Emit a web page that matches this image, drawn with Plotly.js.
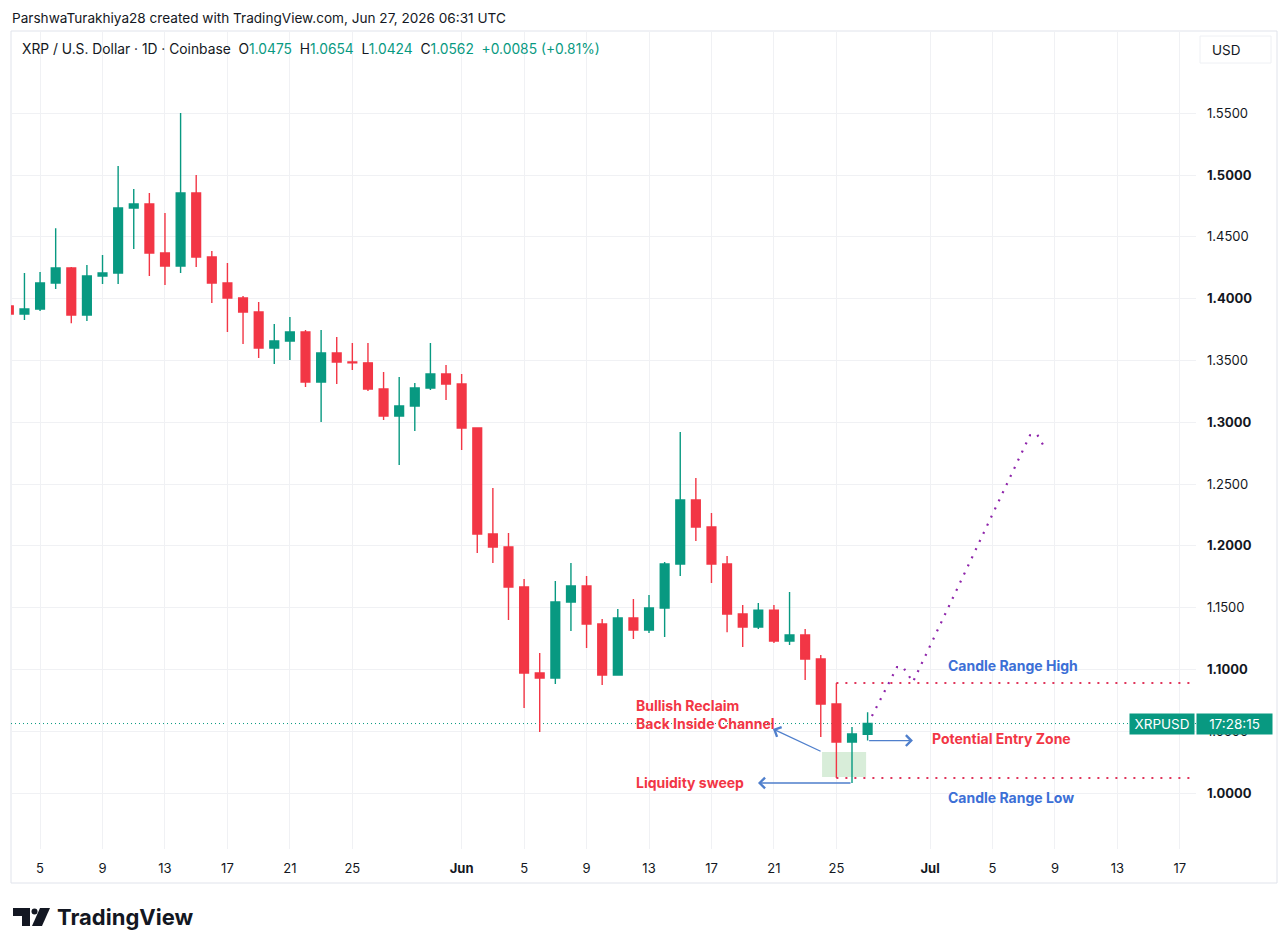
<!DOCTYPE html>
<html>
<head>
<meta charset="utf-8">
<script src="https://cdn.plot.ly/plotly-3.0.1.min.js"></script>
<style>
html,body{margin:0;padding:0;background:#ffffff;}
#chart{width:1288px;height:952px;}
</style>
</head>
<body>
<div id="chart"></div>
<script>
// ---------- DATA ----------
const dates = [
 '2026-05-03','2026-05-04','2026-05-05','2026-05-06','2026-05-07','2026-05-08','2026-05-09','2026-05-10',
 '2026-05-11','2026-05-12','2026-05-13','2026-05-14','2026-05-15','2026-05-16','2026-05-17','2026-05-18',
 '2026-05-19','2026-05-20','2026-05-21','2026-05-22','2026-05-23','2026-05-24','2026-05-25','2026-05-26',
 '2026-05-27','2026-05-28','2026-05-29','2026-05-30','2026-05-31','2026-06-01','2026-06-02','2026-06-03',
 '2026-06-04','2026-06-05','2026-06-06','2026-06-07','2026-06-08','2026-06-09','2026-06-10','2026-06-11',
 '2026-06-12','2026-06-13','2026-06-14','2026-06-15','2026-06-16','2026-06-17','2026-06-18','2026-06-19',
 '2026-06-20','2026-06-21','2026-06-22','2026-06-23','2026-06-24','2026-06-25','2026-06-26','2026-06-27'
];
const opens = [
 1.3940,1.3875,1.3916,1.4126,1.4248,1.3867,1.4183,1.4207,
 1.4733,1.4765,1.4369,1.4264,1.4854,1.4337,1.4126,1.4005,
 1.3892,1.3600,1.3657,1.3730,1.3325,1.3560,1.3487,1.3480,
 1.3269,1.3050,1.3131,1.3277,1.3390,1.3309,1.2953,1.2095,
 1.1990,1.1667,1.0971,1.0930,1.1545,1.1675,1.1367,1.0955,
 1.1416,1.1319,1.1497,1.1853,1.2370,1.2152,1.1853,1.1448,
 1.1343,1.1480,1.1230,1.1278,1.1084,1.0720,1.0413,1.0475
];
const highs = [
 1.3965,1.4207,1.4215,1.4570,1.4256,1.4272,1.4353,1.5073,
 1.4887,1.4854,1.4693,1.5502,1.5000,1.4385,1.4288,1.4021,
 1.3973,1.3794,1.3851,1.3746,1.3746,1.3689,1.3641,1.3641,
 1.3406,1.3366,1.3317,1.3641,1.3463,1.3390,1.2960,1.2468,
 1.2103,1.1731,1.1133,1.1715,1.1860,1.1756,1.1408,1.1489,
 1.1570,1.1602,1.1869,1.2920,1.2549,1.2265,1.1917,1.1521,
 1.1537,1.1521,1.1626,1.1327,1.1117,1.0890,1.0534,1.0654
];
const lows = [
 1.3850,1.3827,1.3900,1.4078,1.3800,1.3819,1.4118,1.4118,
 1.4401,1.4183,1.4110,1.4207,1.4256,1.3964,1.3730,1.3633,
 1.3519,1.3471,1.3503,1.3285,1.3002,1.3309,1.3422,1.3252,
 1.3018,1.2654,1.2929,1.3260,1.3180,1.2775,1.1942,1.1860,
 1.1400,1.0688,1.0494,1.0882,1.1310,1.1173,1.0874,1.0950,
 1.1246,1.1294,1.1262,1.1756,1.2039,1.1699,1.1300,1.1181,
 1.1327,1.1214,1.1197,1.0914,1.0453,1.0121,1.0081,1.0424
];
const closes = [
 1.3875,1.3916,1.4126,1.4248,1.3867,1.4183,1.4207,1.4733,
 1.4765,1.4369,1.4264,1.4854,1.4337,1.4126,1.4005,1.3892,
 1.3600,1.3657,1.3730,1.3325,1.3560,1.3487,1.3480,1.3269,
 1.3050,1.3131,1.3277,1.3390,1.3309,1.2953,1.2095,1.1990,
 1.1667,1.0971,1.0930,1.1545,1.1675,1.1367,1.0955,1.1416,
 1.1319,1.1497,1.1853,1.2370,1.2152,1.1853,1.1448,1.1343,
 1.1480,1.1230,1.1278,1.1084,1.0720,1.0413,1.0477,1.0562
];

// axis ticks
const xTickVals = ['2026-05-05','2026-05-09','2026-05-13','2026-05-17','2026-05-21','2026-05-25','2026-06-01',
 '2026-06-05','2026-06-09','2026-06-13','2026-06-17','2026-06-21','2026-06-25','2026-07-01','2026-07-05',
 '2026-07-09','2026-07-13','2026-07-17'];
const xTickText = ['5','9','13','17','21','25','<b>Jun</b>','5','9','13','17','21','25','<b>Jul</b>','5','9','13','17'];
const yTickVals = [1.00,1.05,1.10,1.15,1.20,1.25,1.30,1.35,1.40,1.45,1.50,1.55];
const yTickText = ['<b>1.0000</b>','1.0500','<b>1.1000</b>','1.1500','<b>1.2000</b>','1.2500','<b>1.3000</b>','1.3500','<b>1.4000</b>','1.4500','<b>1.5000</b>','1.5500'];

// projected path (purple dotted)
const projDates = ['2026-06-27 06:40','2026-06-28 21:10','2026-06-29 06:20','2026-06-29 21:40','2026-07-07 09:40','2026-07-07 20:10','2026-07-08 08:40'];
const projPrices = [1.0623,1.1019,1.1019,1.0898,1.2895,1.2904,1.2790];

// sweep zone box
const zoneDates = ['2026-06-24 02:00','2026-06-26 21:40'];
const zonePrices = [1.0129,1.0332];

// ---------- STYLE / LAYOUT ----------
const FONT = 'Inter, "Noto Sans", Roboto, sans-serif';
const GREEN = '#089981', RED = '#F23645', BLUE = '#3c6fd6', ARROW = '#4f7fcc';
const PL = 11, PT = 31, PW = 1185, PH = 818;
const px = x => (x - PL) / PW;
const py = y => 1 - (y - PT) / PH;

const n = dates.length;
const lastO = opens[n-1], lastH = highs[n-1], lastL = lows[n-1], lastC = closes[n-1];
const chg = lastC - closes[n-2];
const pct = chg / closes[n-2] * 100;
const g = s => '<span style="color:' + GREEN + '">' + s + '</span>';
const sp = '\u00a0\u00a0';
const legendText = 'XRP / U.S. Dollar · 1D · Coinbase' + sp + 'O' + g(lastO.toFixed(4)) + sp + 'H' + g(lastH.toFixed(4)) +
  sp + 'L' + g(lastL.toFixed(4)) + sp + 'C' + g(lastC.toFixed(4)) + sp + g((chg>=0?'+':'') + chg.toFixed(4) + ' (' + (pct>=0?'+':'') + pct.toFixed(2) + '%)');

const iRange = dates.indexOf('2026-06-25');
const rangeHigh = highs[iRange], rangeLow = lows[iRange];
const iSweep = dates.indexOf('2026-06-26');

const traces = [
  {
    type: 'candlestick', x: dates, open: opens, high: highs, low: lows, close: closes,
    increasing: {line: {color: GREEN, width: 1.4}, fillcolor: GREEN},
    decreasing: {line: {color: RED, width: 1.4}, fillcolor: RED},
    hoverinfo: 'none', showlegend: false
  },
  {
    type: 'scatter', mode: 'lines', x: projDates, y: projPrices,
    line: {color: '#8E24AA', width: 2.2, dash: '2px,7px'}, hoverinfo: 'skip', showlegend: false
  }
];

const shapes = [
  // frame
  {type:'rect', xref:'paper', yref:'paper', x0: px(11), x1: px(1277), y0: py(31), y1: py(883),
   line:{color:'#e0e3eb', width:1}, layer:'below'},
  // USD box
  {type:'rect', xref:'paper', yref:'paper', x0: px(1200), x1: px(1271), y0: py(36), y1: py(63),
   line:{color:'#eef0f4', width:1}, fillcolor:'#ffffff', layer:'above'},
  // last price dotted line
  {type:'line', xref:'paper', yref:'y', x0: 0, x1: 1, y0: lastC, y1: lastC,
   line:{color: GREEN, width: 1, dash: '1px,3px'}, layer:'below'},
  // sweep zone
  {type:'rect', xref:'x', yref:'y', x0: zoneDates[0], x1: zoneDates[1], y0: zonePrices[0], y1: zonePrices[1],
   fillcolor:'rgba(76,175,80,0.22)', line:{width:0}, layer:'below'},
  // candle range high / low
  {type:'line', xref:'x', yref:'y', x0: dates[iRange], x1: '2026-07-18 00:45', y0: rangeHigh, y1: rangeHigh,
   line:{color:'#e0345a', width:2, dash:'2px,7px'}},
  {type:'line', xref:'x', yref:'y', x0: dates[iRange], x1: '2026-07-18 00:45', y0: rangeLow, y1: rangeLow,
   line:{color:'#e0345a', width:2, dash:'2px,7px'}},
  // TradingView logo
  {type:'path', xref:'paper', yref:'paper', fillcolor:'#131722', line:{width:0},
   path: 'M'+px(13)+','+py(908)+' L'+px(30)+','+py(908)+' L'+px(30)+','+py(926)+' L'+px(22)+','+py(926)+' L'+px(22)+','+py(916)+' L'+px(13)+','+py(916)+' Z'},
  {type:'circle', xref:'paper', yref:'paper', fillcolor:'#131722', line:{width:0},
   x0: px(31.5), x1: px(37.5), y0: py(914.5), y1: py(908.5)},
  {type:'path', xref:'paper', yref:'paper', fillcolor:'#131722', line:{width:0},
   path: 'M'+px(40)+','+py(908)+' L'+px(50)+','+py(908)+' L'+px(42)+','+py(926)+' L'+px(32)+','+py(926)+' Z'}
];

const redFont = {family: FONT, size: 14, color: RED};
const blueFont = {family: FONT, size: 14, color: BLUE};
const annotations = [
  {xref:'paper', yref:'paper', x: px(10), y: py(18), xanchor:'left', yanchor:'middle', showarrow:false,
   text:'ParshwaTurakhiya28 created with TradingView.com, Jun 27, 2026 06:31 UTC', font:{family:FONT, size:13.6, color:'#131722'}},
  {xref:'paper', yref:'paper', x: px(20), y: py(49), xanchor:'left', yanchor:'middle', showarrow:false,
   text: legendText, font:{family:FONT, size:13.8, color:'#131722'}},
  {xref:'paper', yref:'paper', x: px(1210), y: py(50), xanchor:'left', yanchor:'middle', showarrow:false,
   text:'USD', font:{family:FONT, size:13.5, color:'#131722'}},
  {xref:'paper', yref:'paper', x: px(55), y: py(917), xanchor:'left', yanchor:'middle', showarrow:false,
   text:'<b>TradingView</b>', font:{family:FONT, size:22, color:'#131722'}},
  // last price label
  {xref:'paper', yref:'y', x: px(1129), y: lastC, xanchor:'left', yanchor:'middle', showarrow:false,
   text:'XRPUSD', bgcolor: GREEN, width: 60, height: 16, borderpad: 2, font:{family:FONT, size:13.5, color:'#ffffff'}},
  {xref:'paper', yref:'y', x: px(1196), y: lastC, xanchor:'left', yanchor:'middle', showarrow:false,
   text:'17:28:15', bgcolor: GREEN, width: 71, height: 16, borderpad: 2, font:{family:FONT, size:13.5, color:'#ffffff'}},
  // texts
  {xref:'x', yref:'y', x:'2026-06-12 01:00', y:1.0635, xanchor:'left', yanchor:'middle', showarrow:false, align:'left',
   text:'<b>Bullish Reclaim</b><br><b>Back Inside Channel</b>', font: redFont},
  {xref:'x', yref:'y', x:'2026-06-12 01:00', y:1.0089, xanchor:'left', yanchor:'middle', showarrow:false,
   text:'<b>Liquidity sweep</b>', font: redFont},
  {xref:'x', yref:'y', x:'2026-07-01 00:00', y:1.0445, xanchor:'left', yanchor:'middle', showarrow:false,
   text:'<b>Potential Entry Zone</b>', font: redFont},
  {xref:'x', yref:'y', x:'2026-07-02 00:30', y:1.1035, xanchor:'left', yanchor:'middle', showarrow:false,
   text:'<b>Candle Range High</b>', font: blueFont},
  {xref:'x', yref:'y', x:'2026-07-02 00:30', y:0.9960, xanchor:'left', yanchor:'middle', showarrow:false,
   text:'<b>Candle Range Low</b>', font: blueFont},
  // arrows
  {xref:'x', yref:'y', axref:'x', ayref:'y', x:'2026-06-20 22:30', y:1.0518, ax:'2026-06-24 02:00', ay:1.0332,
   text:'', showarrow:true, arrowhead:4, arrowsize:1.6, arrowwidth:1.3, arrowcolor: ARROW},
  {xref:'x', yref:'y', axref:'x', ayref:'y', x:'2026-06-29 21:40', y:lastL, ax: dates[n-1], ay:lastL,
   text:'', showarrow:true, arrowhead:4, arrowsize:1.6, arrowwidth:1.3, arrowcolor: ARROW},
  {xref:'x', yref:'y', axref:'x', ayref:'y', x:'2026-06-19 23:30', y:lows[iSweep], ax: dates[iSweep], ay:lows[iSweep],
   text:'', showarrow:true, arrowhead:4, arrowsize:1.6, arrowwidth:1.3, arrowcolor: ARROW}
];

const layout = {
  width: 1288, height: 952,
  margin: {l: PL, r: 1288 - PL - PW, t: PT, b: 952 - PT - PH, pad: 0},
  paper_bgcolor: '#ffffff', plot_bgcolor: '#ffffff',
  showlegend: false, hovermode: false,
  boxgap: 0.2,
  font: {family: FONT, color: '#131722', size: 13},
  xaxis: {
    type: 'date', range: ['2026-05-03 03:20', '2026-07-18 00:45'],
    tickmode: 'array', tickvals: xTickVals, ticktext: xTickText,
    showgrid: true, gridcolor: '#f0f1f4', gridwidth: 1, zeroline: false, showline: false,
    ticks: '', ticklabelstandoff: 10, tickfont: {family: FONT, size: 13, color: '#131722'},
    rangeslider: {visible: false}, fixedrange: true
  },
  yaxis: {
    side: 'right', range: [0.9547, 1.6165],
    tickmode: 'array', tickvals: yTickVals, ticktext: yTickText,
    showgrid: true, gridcolor: '#f0f1f4', gridwidth: 1, zeroline: false, showline: false,
    ticks: '', ticklabelstandoff: 10, tickfont: {family: FONT, size: 13, color: '#131722'},
    fixedrange: true
  },
  shapes: shapes,
  annotations: annotations
};

Plotly.newPlot('chart', traces, layout, {displayModeBar: false, staticPlot: true});
</script>
</body>
</html>
